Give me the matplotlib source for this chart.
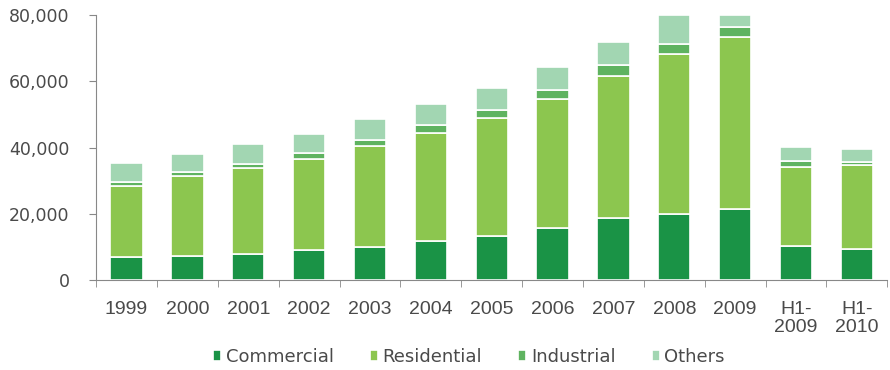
import numpy as np
import matplotlib
matplotlib.use("Agg")
import matplotlib.pyplot as plt

# values in thousands
years = ["1999", "2000", "2001", "2002", "2003", "2004", "2005", "2006",
         "2007", "2008", "2009", "H1-\n2009", "H1-\n2010"]
commercial = [7.0, 7.4, 7.9, 9.0, 10.0, 11.9, 13.3, 15.7, 18.6, 20.1, 21.5, 10.3, 9.4]
residential = [21.4, 24.0, 25.8, 27.5, 30.4, 32.5, 35.6, 38.9, 43.1, 48.1, 51.9, 23.9, 25.3]
industrial = [1.2, 1.2, 1.3, 1.9, 2.0, 2.4, 2.6, 2.7, 3.2, 3.1, 3.0, 1.7, 0.9]
others = [5.7, 5.6, 6.1, 5.6, 6.1, 6.4, 6.6, 7.1, 7.1, 8.7, 3.6, 4.3, 3.9]

names = ["Commercial", "Residential", "Industrial", "Others"]
colors = ["#1a9346", "#8cc64f", "#5fb360", "#a2d6b2"]

fig = plt.figure(figsize=(8.9, 3.7), dpi=100)
ax = fig.add_axes([0.108, 0.243, 0.889, 0.716])

x = np.arange(len(years))
bottom = np.zeros(len(years))
for name, vals, c in zip(names, [commercial, residential, industrial, others], colors):
    v = np.array(vals) * 1000
    ax.bar(x, v, 0.53, bottom=bottom, color=c, edgecolor="white", linewidth=1.2, label=name)
    bottom += v

ax.set_xlim(-0.5, len(years) - 0.5)
ax.set_ylim(0, 80000)
ax.set_yticks(range(0, 80001, 20000))
ax.set_yticklabels([f"{v:,}" for v in range(0, 80001, 20000)],
                   fontsize=12.5, color="#4a4a4a", family="DejaVu Sans")

# category labels without ticks, tick marks on the boundaries
ax.set_xticks(x)
ax.set_xticklabels(years, fontsize=14, color="#4a4a4a", family="Liberation Sans",
                   linespacing=1.05)
ax.tick_params(axis="x", length=0, pad=15)
ax.set_xticks(np.arange(-0.5, len(years)), minor=True)
ax.tick_params(axis="x", which="minor", length=5, color="#888888", direction="out")
ax.tick_params(axis="y", length=5, color="#888888", pad=14)

for s in ["top", "right"]:
    ax.spines[s].set_visible(False)
for s in ["left", "bottom"]:
    ax.spines[s].set_color("#888888")

handles, labels = ax.get_legend_handles_labels()
fig.legend(handles, labels, loc="center", bbox_to_anchor=(0.527, 0.036), ncol=4,
           frameon=False, fontsize=13, handlelength=0.45, handleheight=0.55,
           handletextpad=0.25, columnspacing=2.0, labelcolor="#4a4a4a")

fig.savefig("out.png", dpi=100)
